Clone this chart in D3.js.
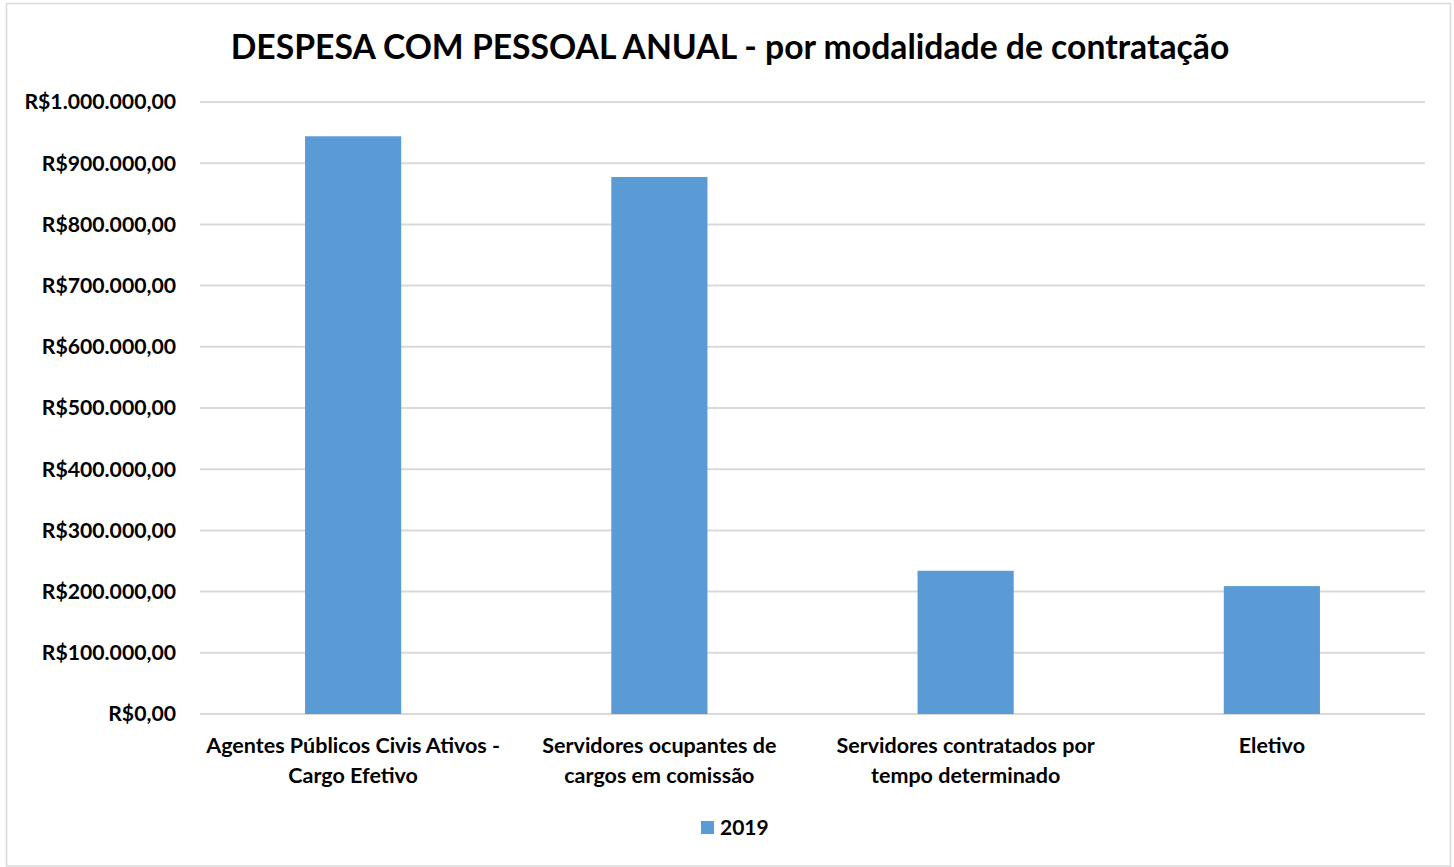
<!DOCTYPE html>
<html><head><meta charset="utf-8">
<script src="https://cdn.jsdelivr.net/npm/d3@7"></script>
<style>body{margin:0;background:#fff;} svg{display:block;font-family:Lato, "Open Sans", sans-serif;}</style>
</head><body>
<svg id="c" width="1454" height="867"></svg>
<script>
const categories = [
  ["Agentes Públicos Civis Ativos -", "Cargo Efetivo"],
  ["Servidores ocupantes de", "cargos em comissão"],
  ["Servidores contratados por", "tempo determinado"],
  ["Eletivo"]
];
const values2019 = [944000, 877500, 234000, 209000];
const yTicks = [0,100000,200000,300000,400000,500000,600000,700000,800000,900000,1000000];
const seriesName = "2019";
const title = "DESPESA COM PESSOAL ANUAL - por modalidade de contratação";

const svg = d3.select("#c");
const W = 1454, H = 867;
svg.append("rect").attr("x",6.5).attr("y",3.5).attr("width",W-10).attr("height",H-4.5)
  .attr("fill","#fff").attr("stroke","#d9d9d9").attr("stroke-width",1.5);

const m = {left:200, right:1425, top:102, bottom:714};
const x = d3.scaleBand().domain(d3.range(categories.length)).range([m.left,m.right]).paddingInner(0.686).paddingOuter(0.343);
const y = d3.scaleLinear().domain([0,1000000]).range([m.bottom,m.top]);

const fmt = v => "R$" + d3.format(",.2f")(v).replace(/,/g,"#").replace(/\./g,",").replace(/#/g,".");

// gridlines
svg.append("g").selectAll("line").data(yTicks).join("line")
  .attr("x1",m.left).attr("x2",m.right).attr("y1",d=>y(d)).attr("y2",d=>y(d))
  .attr("stroke","#d9d9d9").attr("stroke-width",2);

// y labels
svg.append("g").selectAll("text").data(yTicks).join("text")
  .attr("x",176).attr("y",d=>y(d)).attr("dy","0.35em").attr("text-anchor","end")
  .attr("font-size",21.2).attr("font-weight","bold").attr("fill","#000").text(fmt);

// bars
svg.append("g").selectAll("rect").data(values2019).join("rect")
  .attr("x",(d,i)=>x(i)).attr("width",x.bandwidth())
  .attr("y",d=>y(d)).attr("height",d=>y(0)-y(d)).attr("fill","#5b9bd5");

// x labels
const xl = svg.append("g").selectAll("text").data(categories).join("text")
  .attr("text-anchor","middle").attr("font-size",21.5).attr("font-weight","bold").attr("fill","#000")
  .attr("x",(d,i)=>x(i)+x.bandwidth()/2).attr("y",753);
xl.selectAll("tspan").data(d=>d).join("tspan")
  .attr("x",function(){return this.parentNode.getAttribute("x");})
  .attr("dy",(d,i)=>i===0?0:30).text(d=>d);

// title
svg.append("text").attr("x",730).attr("y",59).attr("text-anchor","middle")
  .attr("font-size",33.7).attr("font-weight","bold").attr("fill","#000").text(title);

// legend
svg.append("rect").attr("x",701).attr("y",821).attr("width",13).attr("height",13).attr("fill","#5b9bd5");
svg.append("text").attr("x",720).attr("y",828).attr("dy","0.35em")
  .attr("font-size",21).attr("font-weight","bold").attr("fill","#000").text(seriesName);
</script>
</body></html>
